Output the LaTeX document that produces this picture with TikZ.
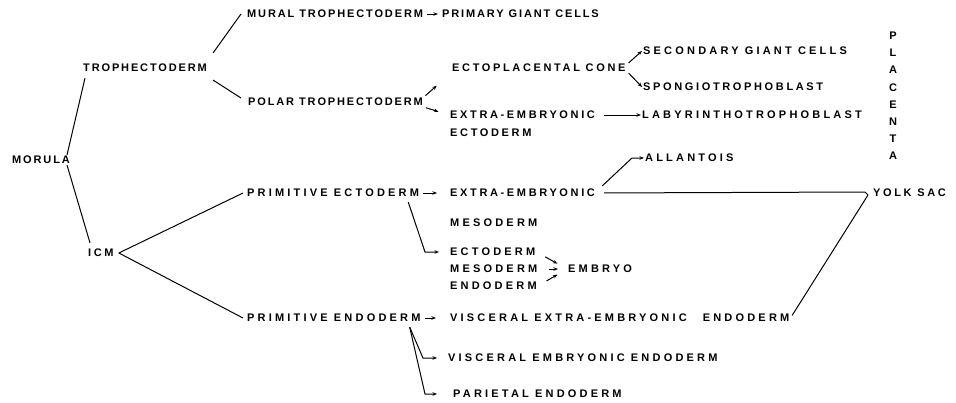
\documentclass[tikz,border=0pt]{standalone}
\usepackage{fontspec}
\setmainfont{Liberation Sans}
\newfontfamily\tightfont{Liberation Sans}[LetterSpace=17]
\newfontfamily\midfont{Liberation Sans}[LetterSpace=24]
\newfontfamily\widefont{Liberation Sans}[LetterSpace=29]
\usepackage{tikz}
\usetikzlibrary{positioning, arrows.meta, calc}

\begin{document}
\begin{tikzpicture}[x=1pt, y=-1pt,
  lbl/.style={anchor=west, inner sep=1pt},
  lbltight/.style={lbl, font=\tightfont\bfseries\fontsize{11}{12}\selectfont},
  lblmid/.style={lbl, font=\midfont\bfseries\fontsize{11}{12}\selectfont},
  lblwide/.style={lbl, font=\widefont\bfseries\fontsize{11}{12}\selectfont},
  link/.style={line width=1pt},
  arr/.style={line width=1pt, -{Stealth[length=4.5pt, width=3.5pt]}}]

\fill[white] (0,0) rectangle (956,402);
\useasboundingbox (0,0) rectangle (956,402);

\node[lbltight] (morula) at (11,160) {MORULA};
\node[lbltight] (troph) at (82,68) {TROPHECTODERM};
\node[lblmid] (icm) at (87,253) {ICM};

\node[lbltight] (mural) at (246,14) {MURAL TROPHECTODERM};
\node[lbltight] (primary) at (441,14) {PRIMARY GIANT CELLS};
\node[lbltight] (polar) at (247,102) {POLAR TROPHECTODERM};
\node[lblmid] (ectopl) at (451,68) {ECTOPLACENTAL CONE};
\node[lblwide] (second) at (642,51) {SECONDARY GIANT CELLS};
\node[lblmid] (spongio) at (642,87) {SPONGIOTROPHOBLAST};
\node[lblmid] (exect) at (449,115) {EXTRA-EMBRYONIC};
\node[lblmid] (exect2) at (449,133) {ECTODERM};
\node[lblwide] (labyr) at (641,115) {LABYRINTHOTROPHOBLAST};
\node[lbl, anchor=north, align=center, font=\widefont\bfseries\fontsize{11}{17.1}\selectfont] (placenta) at (893,31) {P\\L\\A\\C\\E\\N\\T\\A};
\node[lblwide] (allant) at (644,158) {ALLANTOIS};

\node[lblwide] (primecto) at (246,193) {PRIMITIVE ECTODERM};
\node[lblmid] (exmeso) at (449,193) {EXTRA-EMBRYONIC};
\node[lblwide] (exmeso2) at (449,223) {MESODERM};
\node[lblmid] (yolk) at (872,193) {YOLK SAC};
\node[lblwide] (ecto) at (449,252) {ECTODERM};
\node[lblwide] (meso) at (449,269) {MESODERM};
\node[lblwide] (endo) at (449,286) {ENDODERM};
\node[lblwide] (embryo) at (567,269) {EMBRYO};

\node[lblwide] (primendo) at (246,318) {PRIMITIVE ENDODERM};
\node[lblwide] (visex) at (449,318) {VISCERAL EXTRA-EMBRYONIC\hspace{16pt}ENDODERM};
\node[lblwide] (visemb) at (447,358) {VISCERAL EMBRYONIC ENDODERM};
\node[lblwide] (parie) at (452,394) {PARIETAL ENDODERM};

\draw[link] ([xshift=-4pt]morula.north east) -- ([xshift=3pt, yshift=-5pt]troph.south west);
\draw[link] ([xshift=-4pt]morula.south east) -- ([xshift=3pt, yshift=5pt]icm.north west);
\draw[link] ([xshift=5pt, yshift=10pt]troph.north east) -- ([xshift=-5pt]mural.west);
\draw[link] ([xshift=5pt, yshift=-7pt]troph.south east) -- ([xshift=-6pt, yshift=4pt]polar.west);
\draw[link] ([xshift=4pt]icm.east) -- ([xshift=-3pt]primecto.west);
\draw[link] ([xshift=4pt]icm.east) -- ([xshift=-3pt]primendo.west);

\draw[arr, shorten <=3pt, shorten >=3pt] (mural.east) -- (primary.west);
\draw[arr, shorten <=2pt, shorten >=19pt] (polar.north east) -- (ectopl.south west);
\draw[arr, shorten <=2pt, shorten >=11pt] (polar.south east) -- (exect.west);
\draw[arr] ([xshift=2pt]ectopl.north east) -- (second.west);
\draw[arr] ([xshift=2pt]ectopl.south east) -- (spongio.west);
\draw[arr, shorten <=8pt] (exect.east) -- (labyr.west);

\draw[arr, shorten <=3pt] ([xshift=4pt]exmeso.north east) -- ([xshift=-12pt]allant.west) -- (allant.west);
\draw[link, shorten <=8pt] (exmeso.east) -- ([xshift=-7pt, yshift=1pt]yolk.west) -- ([xshift=-4pt, yshift=-2pt]yolk.west);
\draw[link, shorten <=3pt] (visex.east) -- ([xshift=-4pt, yshift=-2pt]yolk.west);

\draw[arr, shorten <=3pt, shorten >=12pt] (primecto.east) -- (exmeso.west);
\draw[arr, shorten >=10pt] ([xshift=-12pt, yshift=-4pt]primecto.south east) -- ([xshift=-24pt]ecto.west) -- (ecto.west);
\draw[arr, shorten <=10pt, shorten >=11pt] (ecto.east) -- (embryo.west);
\draw[arr, shorten <=10pt, shorten >=9pt] (meso.east) -- (embryo.west);
\draw[arr, shorten <=10pt, shorten >=11pt] (endo.east) -- (embryo.west);

\draw[arr, shorten <=3pt, shorten >=13pt] (primendo.east) -- (visex.west);
\draw[arr, shorten >=10pt] ([xshift=-12pt, yshift=-4pt]primendo.south east) -- ([xshift=-24pt]visemb.west) -- (visemb.west);
\draw[arr, shorten >=15pt] ([xshift=-12pt, yshift=-4pt]primendo.south east) -- ([xshift=-27pt]parie.west) -- (parie.west);

\end{tikzpicture}
\end{document}
